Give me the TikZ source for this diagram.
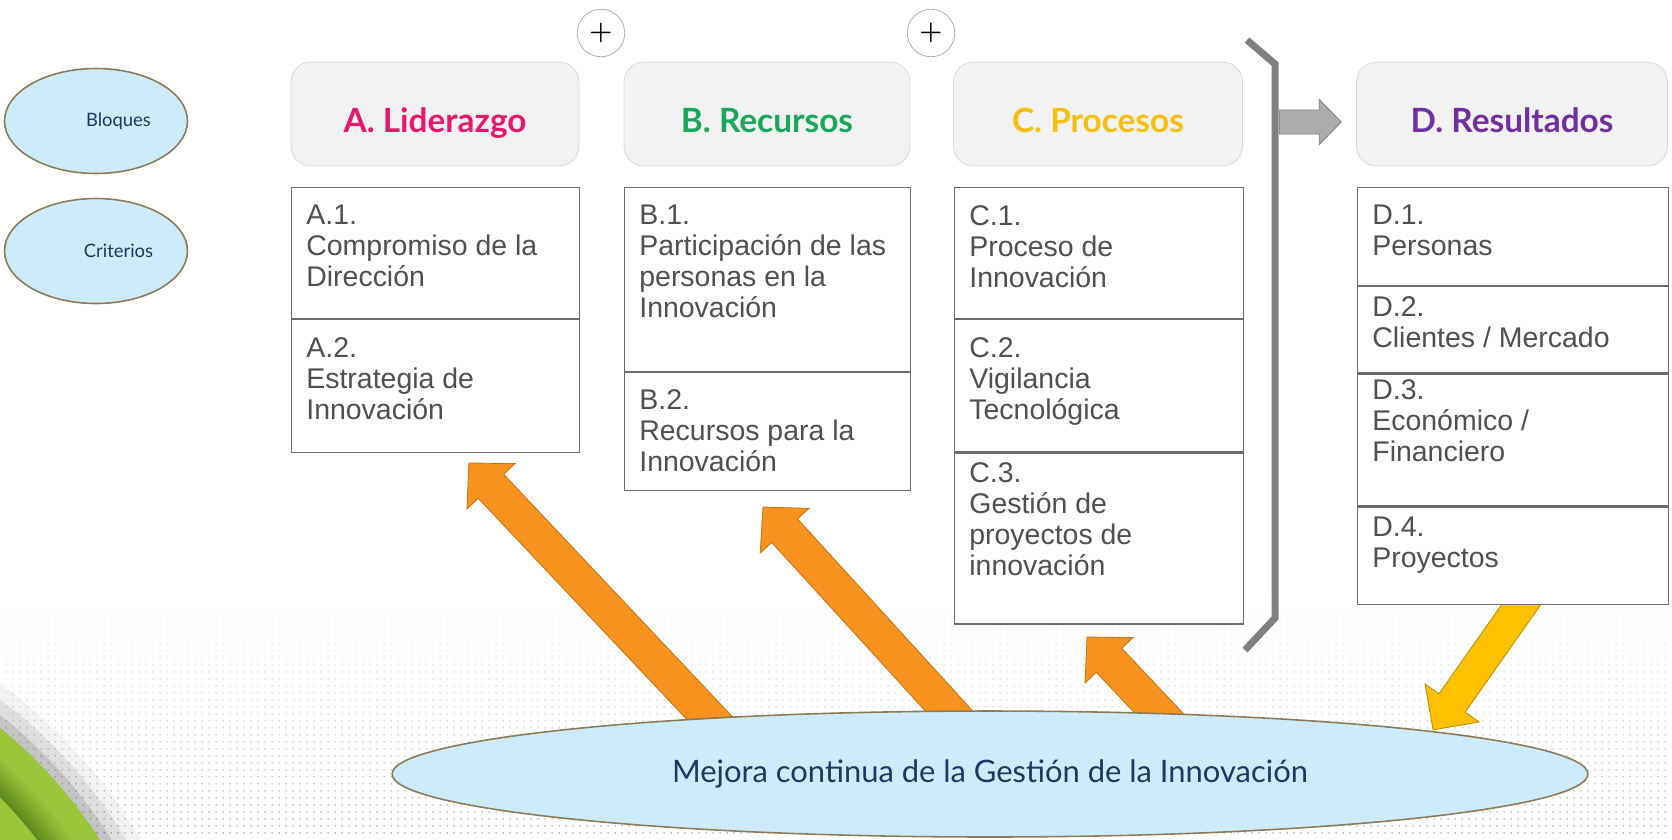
\documentclass[tikz,border=0pt]{standalone}
\usepackage{fontspec}
\newfontfamily\gillf{Lato}
\newfontfamily\arialf{Liberation Sans}
\usetikzlibrary{calc, positioning, shapes.geometric, patterns.meta, fadings}

\definecolor{liderA}{HTML}{E6186F}
\definecolor{recursoB}{HTML}{1AA65B}
\definecolor{procesoC}{HTML}{F7BE0C}
\definecolor{resultD}{HTML}{7030A0}
\definecolor{navy}{HTML}{1F3763}
\definecolor{skyfill}{HTML}{CDEBFB}
\definecolor{ellborder}{HTML}{8C7B58}
\definecolor{hdrfill}{HTML}{F2F2F2}
\definecolor{hdrline}{HTML}{D6D6D6}
\definecolor{celltext}{HTML}{505050}
\definecolor{orangeA}{HTML}{F7931E}
\definecolor{yellowA}{HTML}{FFC000}
\definecolor{leafL}{HTML}{9BC53B}
\definecolor{leafD}{HTML}{5E8A1C}

\pgfdeclarelayer{bg}
\pgfsetlayers{bg,main}

\tikzset{
  hdr/.style={draw=hdrline, fill=hdrfill, rounded corners=0.4cm, minimum height=2.08cm,
    text height=0.88cm, text depth=0.14cm, font=\gillf\bfseries\fontsize{19}{22}\selectfont},
  cell/.style={draw=gray!85!black, fill=white, line width=0.7pt, anchor=north west, inner sep=0},
  crit/.style={align=left, inner sep=0, text=celltext, font=\arialf\fontsize{16.2}{17.6}\selectfont},
  label ell/.style={ellipse, draw=ellborder, line width=0.9pt, fill=skyfill, text=navy, inner sep=0},
  plus/.style={circle, draw=gray!70, fill=white, minimum size=0.95cm, inner sep=0,
    font=\bfseries\fontsize{15}{15}\selectfont},
  bracket/.style={draw=gray, line width=4pt},
  arrowO/.style={fill=orangeA, draw=orangeA!80!black, line width=0.5pt},
  arrowY/.style={fill=yellowA, draw=yellowA!75!black, line width=0.5pt},
  arrowG/.style={fill=gray!65, draw=gray, line width=0.5pt},
}

% block arrow: style, from, to, shaft half width, head half width, head length
\newcommand{\blockarrow}[6]{%
  \path[#1] let \p1=(#2), \p2=(#3), \n1={atan2(\y2-\y1,\x2-\x1)}, \n2={veclen(\x2-\x1,\y2-\y1)} in
    [shift={(\p1)}, rotate=\n1]
    (0pt,-#4) -- (\n2-#6,-#4) -- (\n2-#6,-#5) -- (\n2,0pt) -- (\n2-#6,#5) -- (\n2-#6,#4) -- (0pt,#4) -- cycle;}

\begin{document}
\begin{tikzpicture}[x=0.02cm, y=-0.02cm]
  \useasboundingbox (0,0) rectangle (1672,839);

  % headers
  \node[hdr, minimum width=5.76cm, text=liderA] (hA) at (435,114) {A. Liderazgo};
  \node[hdr, minimum width=5.72cm, text=recursoB] (hB) at (767,114) {B. Recursos};
  \node[hdr, minimum width=5.78cm, text=procesoC] (hC) at (1098,114) {C. Procesos};
  \node[hdr, minimum width=6.22cm, text=resultD] (hD) at (1512,114) {D. Resultados};

  \node[plus] (p1) at (601,33) {+};
  \node[plus] (p2) at (931,33) {+};

  \node[label ell, minimum width=3.66cm, minimum height=2.1cm, font=\gillf\fontsize{10.5}{12}\selectfont] (bloq) at (96,121) {\hspace*{0.9cm}Bloques};
  \node[label ell, minimum width=3.66cm, minimum height=2.1cm, font=\gillf\fontsize{10.5}{12}\selectfont] (crits) at (96,251) {\hspace*{0.9cm}Criterios};

  % criteria cells
  \node[cell, minimum width=5.76cm, minimum height=2.62cm] (a1) at (291,187) {};
  \node[cell, minimum width=5.76cm, minimum height=2.66cm] (a2) at (a1.south west) {};
  \node[cell, minimum width=5.72cm, minimum height=3.68cm] (b1) at (624,187) {};
  \node[cell, minimum width=5.72cm, minimum height=2.36cm] (b2) at (b1.south west) {};
  \node[cell, minimum width=5.78cm, minimum height=2.62cm] (c1) at (954,187) {};
  \node[cell, minimum width=5.78cm, minimum height=2.64cm] (c2) at (c1.south west) {};
  \node[cell, minimum width=5.78cm, minimum height=3.42cm] (c3) at (c2.south west) {};
  \node[cell, minimum width=6.22cm, minimum height=1.96cm] (d1) at (1357,187) {};
  \node[cell, minimum width=6.22cm, minimum height=1.72cm] (d2) at (d1.south west) {};
  \node[cell, minimum width=6.22cm, minimum height=2.64cm] (d3) at (d2.south west) {};
  \node[cell, minimum width=6.22cm, minimum height=1.94cm] (d4) at (d3.south west) {};

  \node[crit, below right=0.36cm and 0.3cm of a1.north west] (a1t) {A.1.\\Compromiso de la\\Dirección};
  \node[crit, below right=0.36cm and 0.3cm of a2.north west] (a2t) {A.2.\\Estrategia de\\Innovación};
  \node[crit, below right=0.36cm and 0.3cm of b1.north west] (b1t) {B.1.\\Participación de las\\personas en la\\Innovación};
  \node[crit, below right=0.34cm and 0.3cm of b2.north west] (b2t) {B.2.\\Recursos para la\\Innovación};
  \node[crit, below right=0.36cm and 0.3cm of c1.north west] (c1t) {C.1.\\Proceso de\\Innovación};
  \node[crit, below right=0.36cm and 0.3cm of c2.north west] (c2t) {C.2.\\Vigilancia\\Tecnológica};
  \node[crit, below right=0.2cm and 0.3cm of c3.north west] (c3t) {C.3.\\Gestión de\\proyectos de\\innovación};
  \node[crit, below right=0.36cm and 0.3cm of d1.north west] (d1t) {D.1.\\Personas};
  \node[crit, below right=0.2cm and 0.3cm of d2.north west] (d2t) {D.2.\\Clientes / Mercado};
  \node[crit, below right=0.12cm and 0.3cm of d3.north west] (d3t) {D.3.\\Económico /\\Financiero};
  \node[crit, below right=0.2cm and 0.3cm of d4.north west] (d4t) {D.4.\\Proyectos};

  % continuous improvement
  \node[label ell, minimum width=23.92cm, minimum height=2.52cm, font=\gillf\fontsize{17.6}{20}\selectfont] (mej) at (990,774) {Mejora continua de la Gestión de la Innovación};

  % bracket and arrow to results
  \draw[bracket] (1247,40) -- (1275,64) -- (1275,618) -- (1245,650);
  \blockarrow{arrowG}{$(hD.west)+(-77,8)$}{$(hD.west)+(-15,8)$}{0.24cm}{0.45cm}{0.44cm}

  \begin{pgfonlayer}{bg}
    \fill[pattern={Dots[radius=0.6pt, distance=4pt]}, pattern color=gray!70, path fading=north] (0,590) rectangle (1672,839);
    \begin{scope}
      \clip (0,0) rectangle (1672,839);
      \foreach \r/\o in {10.2/0.05, 9.95/0.08, 9.7/0.12}
        \fill[black, opacity=\o] (-300,1096) circle (\r cm);
      \fill[leafL] (-300,1096) circle (9.5cm);
      \foreach \i in {0,...,10} {
        \pgfmathtruncatemacro{\pc}{100-9*\i}
        \draw[line width=0.06cm, leafD!\pc!leafL] (-300,1096) circle (8.5cm+\i*0.05cm);
      }
    \end{scope}

    % improvement arrows
    \coordinate (sA) at (735,745);  \coordinate (tA) at (469,463);
    \coordinate (sB) at (970,734);  \coordinate (tB) at (763,507);
    \coordinate (sC) at (1172,727); \coordinate (tC) at (1087,637);
    \coordinate (sD) at (1535,585); \coordinate (tD) at (1433,730);
    \blockarrow{arrowO}{sA}{tA}{0.35cm}{0.66cm}{0.64cm}
    \blockarrow{arrowO}{sB}{tB}{0.35cm}{0.66cm}{0.64cm}
    \blockarrow{arrowO}{sC}{tC}{0.35cm}{0.66cm}{0.64cm}
    \blockarrow{arrowY}{sD}{tD}{0.32cm}{0.66cm}{0.66cm}
  \end{pgfonlayer}
\end{tikzpicture}
\end{document}
